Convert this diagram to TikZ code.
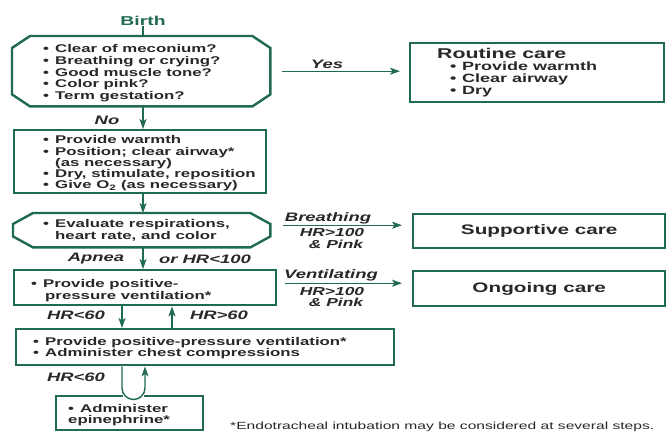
\documentclass[tikz,border=0pt]{standalone}
\usepackage{fontspec}
\setmainfont[FakeStretch=1.5]{Liberation Sans}
\usetikzlibrary{arrows.meta,calc}
\definecolor{grn}{RGB}{32,106,82}
\definecolor{ink}{RGB}{40,40,40}
\newcommand\bul{\makebox[12pt][l]{•}}
\newcommand\cont{\hspace*{12pt}}
\newcommand\drawocto[3]{%
  \draw[boxline] ([xshift=#2]#1.north west) -- ([xshift=-#2]#1.north east)
    -- ([yshift=-#3]#1.north east) -- ([yshift=#3]#1.south east)
    -- ([xshift=-#2]#1.south east) -- ([xshift=#2]#1.south west)
    -- ([yshift=#3]#1.south west) -- ([yshift=-#3]#1.north west) -- cycle;}
\begin{document}
\begin{tikzpicture}[x=1pt,y=-1pt,
  boxline/.style={draw=grn, line width=2.4pt},
  conn/.style={draw=grn, line width=1.4pt},
  arr/.style={conn, -{Stealth[length=10pt,width=7pt,inset=2.5pt]}},
  shapebox/.style={anchor=north west, inner sep=0pt},
  lst/.style={font=\fontsize{11.2}{11.4}\selectfont\bfseries, text=ink, align=left,
    inner sep=0pt, anchor=west},
  ttl/.style={font=\fontsize{13.8}{14}\selectfont\bfseries, text=ink, anchor=north west,
    boxline, inner sep=0pt},
  lbl/.style={font=\fontsize{12.3}{13}\selectfont\bfseries\itshape, text=ink, inner sep=0pt, align=center},
  slbl/.style={font=\fontsize{11.6}{12}\selectfont\bfseries\itshape, text=ink, inner sep=0pt}
]
\fill[white] (0,0) rectangle (666,432);
\useasboundingbox (0,0) rectangle (666,432);

\coordinate (sp) at (143,0);
\coordinate (dl) at (122,0);
\coordinate (ul) at (172,0);
\coordinate (uR) at (145,0);
\coordinate (uB) at (0,399.5);

\node[font=\fontsize{12.9}{13}\selectfont\bfseries, text=grn, inner sep=1pt] (birth) at (143,20.5) {Birth};

% box 1 (octagon)
\node[shapebox, minimum width=258pt, minimum height=70pt] (b1) at (12,36) {};
\drawocto{b1}{18pt}{12pt}
\node[lst, font=\fontsize{11.2}{11.6}\selectfont\bfseries] (t1) at ([xshift=31pt,yshift=-2pt]b1.west)
  {\bul Clear of meconium?\\ \bul Breathing or crying?\\ \bul Good muscle tone?\\ \bul Color pink?\\ \bul Term gestation?};

% routine care
\node[shapebox, boxline, minimum width=254pt, minimum height=59pt] (rc) at (409,42) {};
\node[lst, font=\fontsize{12}{12}\selectfont\bfseries] (trc) at ([xshift=28pt]rc.west)
  {{\fontsize{14.2}{14}\selectfont Routine care}\\ \hspace*{13pt}\bul Provide warmth\\ \hspace*{13pt}\bul Clear airway\\ \hspace*{13pt}\bul Dry};

% box 2
\node[shapebox, boxline, minimum width=252pt, minimum height=63pt] (b2) at (13,129) {};
\node[lst, font=\fontsize{11.2}{11.1}\selectfont\bfseries] (t2) at ([xshift=30pt,yshift=-1.5pt]b2.west)
  {\bul Provide warmth\\ \bul Position; clear airway*\\ \cont(as necessary)\\ \bul Dry, stimulate, reposition\\ \bul Give O\textsubscript{2} (as necessary)};

% box 3 (octagon)
\node[shapebox, minimum width=257pt, minimum height=34pt] (b3) at (13,213) {};
\drawocto{b3}{20pt}{11pt}
\node[lst, font=\fontsize{11.2}{11.5}\selectfont\bfseries] (t3) at ([xshift=30pt]b3.west)
  {\bul Evaluate respirations,\\ \cont heart rate, and color};

% supportive care
\node[ttl, minimum width=252pt, minimum height=34pt] (sc) at (412,213) {Supportive care};

% box 4
\node[shapebox, boxline, minimum width=262pt, minimum height=35pt] (b4) at (13,269) {};
\node[lst, font=\fontsize{11.2}{12}\selectfont\bfseries] (t4) at ([xshift=18pt,yshift=-3pt]b4.west)
  {\bul Provide positive-\\ \hspace*{14pt}pressure ventilation*};

% ongoing care
\node[ttl, minimum width=252pt, minimum height=35pt] (oc) at (412,270) {Ongoing care};

% box 5
\node[shapebox, boxline, minimum width=378pt, minimum height=36pt] (b5) at (15,328) {};
\node[lst, font=\fontsize{11.2}{10.8}\selectfont\bfseries] (t5) at ([xshift=18pt,yshift=-1pt]b5.west)
  {\bul Provide positive-pressure ventilation*\\ \bul Administer chest compressions};

% box 6
\node[shapebox, boxline, minimum width=147pt, minimum height=34pt] (b6) at (55,395) {};
\node[lst, font=\fontsize{11.2}{11}\selectfont\bfseries] (t6) at ([xshift=13pt,yshift=-2pt]b6.west)
  {\bul Administer\\ epinephrine*};

% connectors
\draw[conn] (birth.south) -- (birth.south |- b1.north);
\draw[arr] (b1.south -| sp) -- (b2.north -| sp);
\draw[arr] (b2.south -| sp) -- (b3.north -| sp);
\draw[arr] (b3.south -| sp) -- (b4.north -| sp);
\draw[arr] (b4.south -| dl) -- (b5.north -| dl);
\draw[arr] (b5.north -| ul) -- (b4.south -| ul);
\fill[white] (123.2,391) rectangle (143.8,398.5);
\draw[arr, rounded corners=11.5pt] (b5.south -| dl) -- (dl |- uB) -- (uR |- uB) -- (b5.south -| uR);

\draw[arr, shorten <=12pt, shorten >=9pt] (b1.east) -- (b1.east -| rc.west);
\draw[arr, shorten <=13pt, shorten >=10pt] ([yshift=5pt]b3.east) -- ([yshift=5pt]b3.east -| sc.west);
\draw[arr, shorten <=8pt, shorten >=10pt] ([yshift=4.5pt]b4.east) -- ([yshift=4.5pt]b4.east -| oc.west);

% labels
\node[lbl] (lyes) at (327,64) {Yes};
\node[lbl] (lno) at (107,120) {No};
\node[lbl] (lbr) at (328,218) {Breathing};
\node[slbl] (lhr1a) at (332,232.5) {HR>100};
\node[slbl] (lhr1b) at (336,244) {\& Pink};
\node[lbl] (lap) at (96,259) {Apnea};
\node[lbl] (lor) at (205,259) {or HR<100};
\node[lbl] (lve) at (331,275) {Ventilating};
\node[slbl] (lhr2a) at (332,291) {HR>100};
\node[slbl] (lhr2b) at (336,302.5) {\& Pink};
\node[lbl] (lhr3) at (76,315) {HR<60};
\node[lbl] (lhr4) at (219,315) {HR>60};
\node[lbl] (lhr5) at (76,377) {HR<60};

\node[font=\fontsize{10.4}{12}\selectfont, text=ink, anchor=base west, inner sep=0pt] (foot) at (230,429.3)
  {*Endotracheal intubation may be considered at several steps.};
\end{tikzpicture}
\end{document}
